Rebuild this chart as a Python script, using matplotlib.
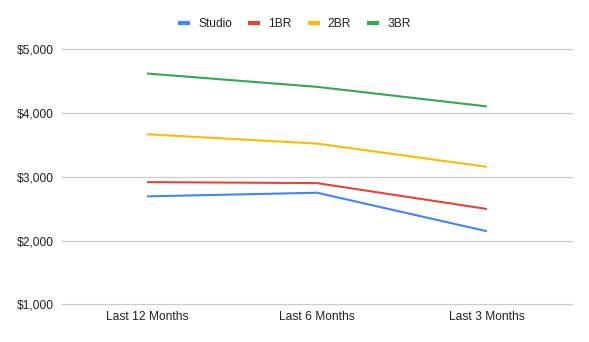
import matplotlib.pyplot as plt
from matplotlib.ticker import FuncFormatter

periods = ['Last 12 Months', 'Last 6 Months', 'Last 3 Months']
studio = [2693, 2750, 2146]
br1 = [2917, 2901, 2495]
br2 = [3667, 3521, 3156]
br3 = [4620, 4411, 4104]

series = [('Studio', studio, '#4285F4'),
          ('1BR', br1, '#EA4335'),
          ('2BR', br2, '#FBBC04'),
          ('3BR', br3, '#34A853')]

plt.rcParams['font.family'] = ['Liberation Sans', 'DejaVu Sans']
fs = 8.64  # 12px at dpi 100

fig = plt.figure(figsize=(5.89, 3.42), dpi=100)
ax = fig.add_axes([62 / 589, 1 - 304.3 / 342, 510 / 589, 255 / 342])

x = range(len(periods))
for name, vals, col in series:
    ax.plot(x, vals, color=col, lw=1.5, label=name, solid_capstyle='butt')

ax.set_xlim(-0.5, 2.5)
ax.set_ylim(1000, 5000)
ax.set_yticks([1000, 2000, 3000, 4000, 5000])
ax.yaxis.set_major_formatter(FuncFormatter(lambda v, p: '${:,.0f}'.format(v)))
ax.set_xticks(list(x))
ax.set_xticklabels(periods)
ax.tick_params(axis='both', length=0, labelsize=fs, labelcolor='#222222')
ax.tick_params(axis='y', pad=5.8)
ax.tick_params(axis='x', pad=5.0)
ax.grid(axis='y', color='#cccccc', lw=0.9)
ax.set_axisbelow(True)
for gl in ax.get_ygridlines():
    gl.set_clip_on(False)
for s in ax.spines.values():
    s.set_visible(False)

handles, labels = ax.get_legend_handles_labels()
leg = fig.legend(handles, labels, loc='center', bbox_to_anchor=(0.5, 1 - 24 / 342),
                 ncol=4, frameon=False, fontsize=fs, handlelength=1.0,
                 handletextpad=0.67, columnspacing=1.33)
for h in leg.legend_handles:
    h.set_linewidth(3.0)
for t in leg.get_texts():
    t.set_color('#222222')

fig.savefig('out.png', dpi=100)
